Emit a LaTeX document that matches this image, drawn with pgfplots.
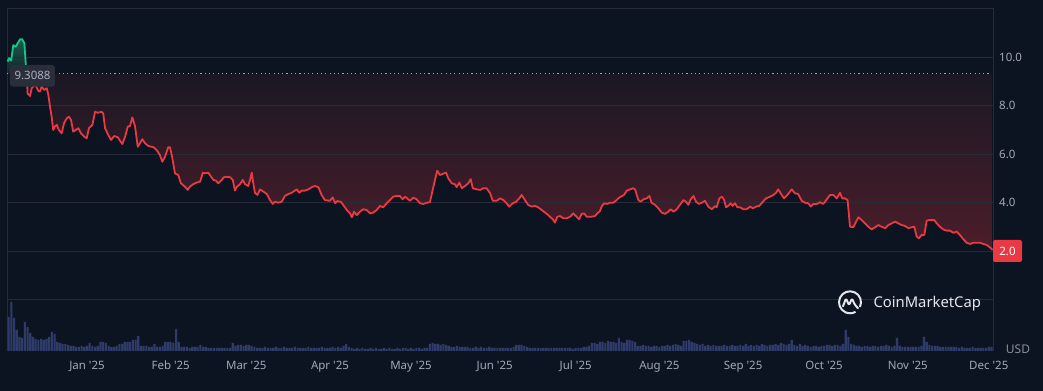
\documentclass[border=0pt]{standalone}
\usepackage{pgfplots}
\pgfplotsset{compat=1.18}
\usepackage{pgfplotstable}
\usepackage{fontspec}
\setmainfont{Noto Sans}
\definecolor{bg}{HTML}{0D1421}
\definecolor{gridc}{HTML}{272B37}
\definecolor{labc}{HTML}{A1A7B8}
\definecolor{volc}{HTML}{2F3C6B}
\definecolor{redc}{HTML}{EA3943}
\definecolor{greenc}{HTML}{16C784}
\definecolor{redtop}{HTML}{1A1823}
\definecolor{redbot}{HTML}{4C1D2A}
\definecolor{greentop}{HTML}{1E5A4E}
\definecolor{greenbot}{HTML}{11232B}
\definecolor{boxc}{HTML}{2A2E3A}
\definecolor{logoc}{HTML}{E4E6EC}

\pgfplotstableread{
day val
-29.4 9.81
-28.9 9.95
-28.1 9.85
-27.3 10.49
-26.4 10.42
-25.7 10.56
-24.8 10.73
-24.0 10.73
-23.2 10.56
-22.7 9.74
-22.3 9.31
}\greentab

\pgfplotstableread{
day val
-22.3 9.31
-22.0 8.50
-21.1 8.39
-20.5 8.71
-19.3 8.85
-18.9 8.80
-18.0 8.60
-17.4 8.57
-16.8 8.78
-15.8 8.64
-14.9 8.71
-14.3 8.43
-13.7 7.95
-13.1 7.54
-12.5 6.99
-11.9 7.13
-11.2 7.20
-10.4 6.99
-9.4 6.85
-8.5 7.27
-7.5 7.47
-6.7 7.54
-5.9 7.40
-5.1 6.92
-4.2 6.99
-3.2 7.06
-2.2 6.85
-1.0 6.71
-0.1 6.65
0.7 7.06
2.0 7.20
3.0 7.74
4.0 7.70
5.4 7.74
6.0 7.68
6.7 7.06
7.9 6.78
8.9 6.58
10.1 6.74
11.4 6.69
12.2 6.55
13.1 6.41
14.1 6.71
15.1 7.13
15.9 7.15
16.8 7.51
17.8 7.13
18.8 6.30
19.6 6.44
20.5 6.61
21.5 6.44
22.7 6.33
24.6 6.28
25.8 6.16
27.0 5.96
27.9 5.68
28.9 5.89
30.1 6.28
30.7 6.28
31.4 5.96
32.6 5.20
33.8 5.13
34.8 4.79
36.3 4.65
37.3 4.52
38.1 4.65
39.4 4.76
40.6 4.82
41.9 4.86
42.9 5.23
43.7 5.20
44.9 5.23
45.8 5.09
46.8 4.93
47.8 4.90
48.6 4.79
49.9 4.93
50.7 5.04
51.7 5.06
53.0 5.04
54.0 4.93
54.8 4.49
55.4 4.63
56.7 4.76
57.7 4.93
58.5 4.76
59.7 4.68
60.4 4.93
61.0 5.23
61.6 4.79
62.2 4.40
63.1 4.31
64.1 4.54
65.3 4.45
66.6 4.35
67.8 4.10
68.8 3.94
69.6 4.03
70.9 3.99
72.1 4.03
73.3 4.27
74.6 4.35
75.8 4.40
77.7 4.54
78.6 4.40
79.5 4.49
80.7 4.49
82.0 4.54
83.2 4.63
84.4 4.68
85.7 4.63
86.9 4.31
88.1 4.10
90.0 4.07
91.0 4.21
91.9 3.97
92.7 4.06
94.0 4.03
94.9 3.90
96.2 3.69
97.4 3.55
98.1 3.39
98.9 3.62
99.9 3.48
101.1 3.62
102.3 3.72
103.6 3.69
104.8 3.55
106.0 3.58
107.3 3.69
108.5 3.86
109.7 3.80
111.0 3.97
112.2 4.10
113.4 4.24
114.7 4.27
115.9 4.27
116.9 4.13
117.8 4.24
118.6 4.17
119.6 4.07
120.9 4.20
122.1 4.13
123.3 3.97
124.6 3.94
125.8 3.99
127.0 4.01
128.3 4.65
129.7 5.31
130.7 5.13
131.7 5.18
133.0 5.23
133.8 5.00
135.1 4.79
136.3 4.75
136.9 4.63
137.9 4.82
138.8 4.59
140.0 4.68
141.2 4.79
142.1 4.96
142.9 4.59
144.3 4.54
145.6 4.52
146.8 4.59
148.0 4.59
149.3 4.38
150.3 4.07
151.7 4.07
153.0 4.17
154.2 4.10
155.4 3.97
156.4 3.83
157.7 3.97
158.9 4.03
160.1 4.17
161.0 4.31
162.2 4.10
163.4 3.90
164.7 3.83
165.9 3.86
167.1 3.80
168.4 3.69
170.3 3.53
171.5 3.41
172.7 3.28
173.3 3.17
174.2 3.41
175.2 3.44
176.4 3.35
177.7 3.35
178.9 3.41
180.1 3.55
181.1 3.44
182.3 3.31
183.2 3.53
184.1 3.55
185.1 3.41
186.6 3.41
188.1 3.44
189.0 3.55
190.0 3.65
190.6 3.83
191.5 3.97
192.7 3.94
193.7 3.99
194.9 3.99
195.9 4.07
196.8 4.17
197.7 4.24
198.9 4.31
199.9 4.49
201.1 4.54
202.3 4.59
203.0 4.54
204.2 4.10
205.1 4.03
206.1 4.13
207.3 4.17
208.3 4.27
209.1 3.99
210.4 3.90
211.6 3.76
212.9 3.58
214.1 3.53
215.3 3.62
216.2 3.72
217.2 3.62
218.4 3.72
219.6 3.90
220.9 4.10
221.9 4.03
222.7 3.90
223.6 4.13
224.6 4.27
225.6 4.03
226.6 3.94
227.7 3.99
228.9 4.07
230.1 3.83
231.4 3.72
232.6 3.85
233.2 3.80
234.2 4.17
235.1 4.24
235.9 4.13
236.7 3.80
237.5 3.86
238.4 3.97
239.1 3.86
240.0 3.97
240.9 3.80
241.9 3.80
243.1 3.72
244.3 3.72
245.6 3.83
246.6 3.76
247.8 3.83
249.0 3.86
250.3 4.03
251.5 4.17
253.0 4.24
254.2 4.31
255.2 4.40
256.0 4.54
257.3 4.31
258.1 4.17
259.4 4.31
261.0 4.54
262.2 4.38
263.4 4.35
264.7 4.07
265.9 3.99
267.1 3.97
268.1 3.83
269.0 3.94
270.3 3.94
271.5 4.01
272.7 3.94
274.0 4.13
275.2 4.31
276.4 4.31
277.7 4.17
278.9 4.40
279.7 4.17
280.7 4.17
281.7 4.10
282.6 3.00
283.8 2.98
285.7 3.39
286.9 3.28
288.1 3.14
289.4 3.00
290.6 2.89
291.9 2.98
293.1 3.07
294.3 3.00
295.6 2.94
296.8 3.07
298.0 3.14
299.3 3.21
300.5 3.14
301.7 3.07
303.0 3.03
304.2 2.94
305.4 2.98
306.4 3.00
307.3 2.59
308.1 2.52
309.1 2.66
310.1 2.66
311.0 3.25
312.2 3.28
313.8 3.28
314.7 3.14
315.9 3.00
317.1 2.89
318.4 2.84
319.6 2.84
320.9 2.75
322.1 2.80
323.3 2.66
324.6 2.48
325.8 2.34
327.0 2.29
328.3 2.34
329.5 2.34
330.7 2.34
332.0 2.29
333.2 2.25
334.4 2.15
335.4 2.04
}\redtab

\pgfplotstableread[row sep=\\]{
day vol\\
-29 34\\-28 49\\-27 33\\-26 21\\-25 14\\-24 13\\-23 29\\-22 24\\-21 18\\-20 14\\
-19 12\\-18 11\\-17 12\\-16 11\\-15 12\\-14 14\\-13 19\\-12 17\\-11 9\\-10 8\\
-9 7\\-8 7\\-7 6\\-6 5\\-5 5\\-4 4\\-3 4\\-2 5\\-1 4\\0 5\\
1 8\\2 5\\3 4\\4 5\\5 9\\6 9\\7 8\\8 5\\9 4\\10 4\\
11 5\\12 7\\13 7\\14 9\\15 9\\16 9\\17 11\\18 11\\19 15\\20 5\\
21 5\\22 5\\23 4\\24 4\\25 7\\26 4\\27 4\\28 5\\29 9\\30 9\\
31 9\\32 8\\33 22\\34 9\\35 4\\36 4\\37 4\\38 3\\39 4\\40 4\\
41 4\\42 6\\43 4\\44 4\\45 3\\46 3\\47 3\\48 3\\49 3\\50 3\\
51 3\\52 3\\53 3\\54 8\\55 5\\56 6\\57 6\\58 5\\59 6\\60 6\\
61 5\\62 4\\63 3\\64 3\\65 3\\66 4\\67 3\\68 3\\69 3\\70 4\\
71 3\\72 3\\73 4\\74 3\\75 3\\76 3\\77 4\\78 3\\79 3\\80 3\\
81 3\\82 4\\83 3\\84 3\\85 3\\86 3\\87 4\\88 3\\89 3\\90 3\\
91 4\\92 3\\93 4\\94 3\\95 5\\96 7\\97 4\\98 3\\99 2\\100 3\\
101 2\\102 3\\103 2\\104 2\\105 3\\106 2\\107 3\\108 2\\109 2\\110 3\\
111 2\\112 3\\113 2\\114 2\\115 3\\116 2\\117 3\\118 3\\119 2\\120 3\\
121 2\\122 3\\123 3\\124 2\\125 3\\126 3\\127 7\\128 8\\129 7\\130 7\\
131 6\\132 7\\133 6\\134 5\\135 4\\136 4\\137 5\\138 4\\139 4\\140 4\\
141 4\\142 3\\143 3\\144 4\\145 3\\146 4\\147 3\\148 3\\149 4\\150 3\\
151 3\\152 3\\153 3\\154 3\\155 3\\156 3\\157 3\\158 4\\159 6\\160 6\\
161 6\\162 5\\163 4\\164 3\\165 3\\166 3\\167 3\\168 3\\169 3\\170 3\\
171 3\\172 3\\173 3\\174 3\\175 3\\176 3\\177 3\\178 3\\179 3\\180 2\\
181 3\\182 3\\183 3\\184 4\\185 4\\186 5\\187 8\\188 8\\189 7\\190 9\\
191 9\\192 8\\193 10\\194 9\\195 9\\196 8\\197 13\\198 9\\199 8\\200 11\\
201 11\\202 10\\203 9\\204 5\\205 5\\206 6\\207 5\\208 5\\209 4\\210 5\\
211 5\\212 4\\213 5\\214 5\\215 6\\216 5\\217 6\\218 7\\219 6\\220 5\\
221 10\\222 10\\223 11\\224 9\\225 8\\226 7\\227 6\\228 7\\229 5\\230 6\\
231 5\\232 6\\233 5\\234 5\\235 5\\236 6\\237 5\\238 5\\239 6\\240 5\\
241 5\\242 6\\243 5\\244 7\\245 5\\246 6\\247 5\\248 6\\249 5\\250 7\\
251 6\\252 5\\253 6\\254 6\\255 7\\256 6\\257 8\\258 7\\259 6\\260 7\\
261 11\\262 6\\263 5\\264 7\\265 5\\266 6\\267 5\\268 4\\269 5\\270 5\\
271 4\\272 5\\273 5\\274 6\\275 6\\276 5\\277 6\\278 6\\279 5\\280 7\\
281 21\\282 14\\283 7\\284 6\\285 5\\286 5\\287 4\\288 5\\289 5\\290 4\\
291 5\\292 5\\293 4\\294 5\\295 5\\296 6\\297 5\\298 4\\299 5\\300 13\\
301 5\\302 4\\303 4\\304 4\\305 4\\306 4\\307 4\\308 4\\309 5\\310 14\\
311 9\\312 6\\313 5\\314 5\\315 5\\316 4\\317 4\\318 4\\319 4\\320 4\\
321 4\\322 4\\323 3\\324 4\\325 3\\326 3\\327 3\\328 4\\329 3\\330 3\\
331 3\\332 3\\333 3\\334 4\\335 4\\
}\voltab

\newcommand\lab{\fontsize{11.5}{13}\selectfont}

\begin{document}
\begin{tikzpicture}

% main price axis
\begin{axis}[
  name=main,
  scale only axis, width=986pt, height=291.5pt,
  xmin=-29.63, xmax=335.56, ymin=0, ymax=12.02,
  clip=false,
  axis line style={draw=none},
  xtick=\empty, ytick=\empty,
  major tick length=0pt,
]
% page background
\fill[bg] (rel axis cs:-0.0071,-0.3139) rectangle (rel axis cs:1.0507,1.0274);
% fills between price and start price
\addplot[draw=none, top color=redtop, bottom color=redbot]
  table[x=day, y=val] {\redtab} -- (axis cs:335.4,9.3088) -- cycle;
\addplot[draw=none, top color=greentop, bottom color=greenbot]
  table[x=day, y=val] {\greentab} -- (axis cs:-29.4,9.3088) -- cycle;
% grid lines
\pgfplotsinvokeforeach{0,2,4,6,8,10}{
  \addplot[gridc, line width=0.8pt] coordinates {(-29.63,#1) (335.56,#1)};
}
% frame
\draw[gridc, line width=0.8pt] (rel axis cs:0,-0.1767) -- (rel axis cs:0,1) -- (rel axis cs:1,1) -- (rel axis cs:1,-0.1767);
% start-price baseline
\addplot[gray!70, line width=1.1pt, dash pattern=on 1.1pt off 3.2pt]
  coordinates {(-29.63,9.3088) (335.0,9.3088)};
% price line
\addplot[redc, line width=1.8pt, line join=round] table[x=day, y=val] {\redtab};
\addplot[greenc, line width=1.8pt, line join=round] table[x=day, y=val] {\greentab};
% right-hand price scale
\pgfplotsinvokeforeach{4,6,8,10}{
  \node[anchor=west, inner sep=0pt, xshift=6pt, text=labc, font=\lab\bfseries]
    at (axis cs:335.56,#1) {#1.0};
}
% labels
\fill[boxc, rounded corners=3pt] (rel axis cs:0.00304,0.73002) rectangle (rel axis cs:0.04868,0.80446);
\node[text=labc!90!white, font=\lab] at (rel axis cs:0.02586,0.76724) {9.3088};
\fill[redc, rounded corners=2pt] (rel axis cs:1.0,0.12864) rectangle (rel axis cs:1.02941,0.20412);
\node[text=white, font=\lab\bfseries] at (rel axis cs:1.01471,0.16638) {2.0};
\node[text=labc!85!black, font=\fontsize{12}{14}\selectfont\bfseries] at (rel axis cs:1.02535,-0.16981) {USD};
\coordinate (logo) at (rel axis cs:0.85497,-0.0096);
\node[text=logoc, font=\fontsize{14.8}{17}\selectfont\bfseries, anchor=west] at (rel axis cs:0.87525,-0.01304) {CoinMarketCap};
\end{axis}

% logo mark
\begin{scope}[shift={(logo)}]
\fill[bg] (0,0) circle (12pt);
\draw[logoc, line width=2pt] (-25:11pt) arc (-25:300:11pt);
\draw[logoc, line width=2pt, line join=round, line cap=round, rounded corners=1.5pt]
  (-7pt,-4pt) -- (-4pt,4pt) -- (-1pt,-3pt) -- (2pt,4pt) -- (4.5pt,-2pt) -- (8pt,-6pt);
\end{scope}

% volume axis
\begin{axis}[
  at={(main.south west)}, anchor=north west,
  scale only axis, width=986pt, height=51.5pt,
  xmin=-29.63, xmax=335.56, ymin=0, ymax=51.5,
  axis line style={draw=none},
  ytick=\empty,
  major tick length=0pt,
  xtick={0,31,59,90,120,151,181,212,243,273,304,334},
  xticklabels={Jan \textquotesingle25,Feb \textquotesingle25,Mar \textquotesingle25,Apr \textquotesingle25,May \textquotesingle25,Jun \textquotesingle25,Jul \textquotesingle25,Aug \textquotesingle25,Sep \textquotesingle25,Oct \textquotesingle25,Nov \textquotesingle25,Dec \textquotesingle25},
  xticklabel style={font=\lab, text=labc, yshift=-6.5pt},
]
\addplot[ybar, bar width=2.1pt, draw=none, fill=volc] table[x=day, y=vol] {\voltab};
\end{axis}
\end{tikzpicture}
\end{document}
